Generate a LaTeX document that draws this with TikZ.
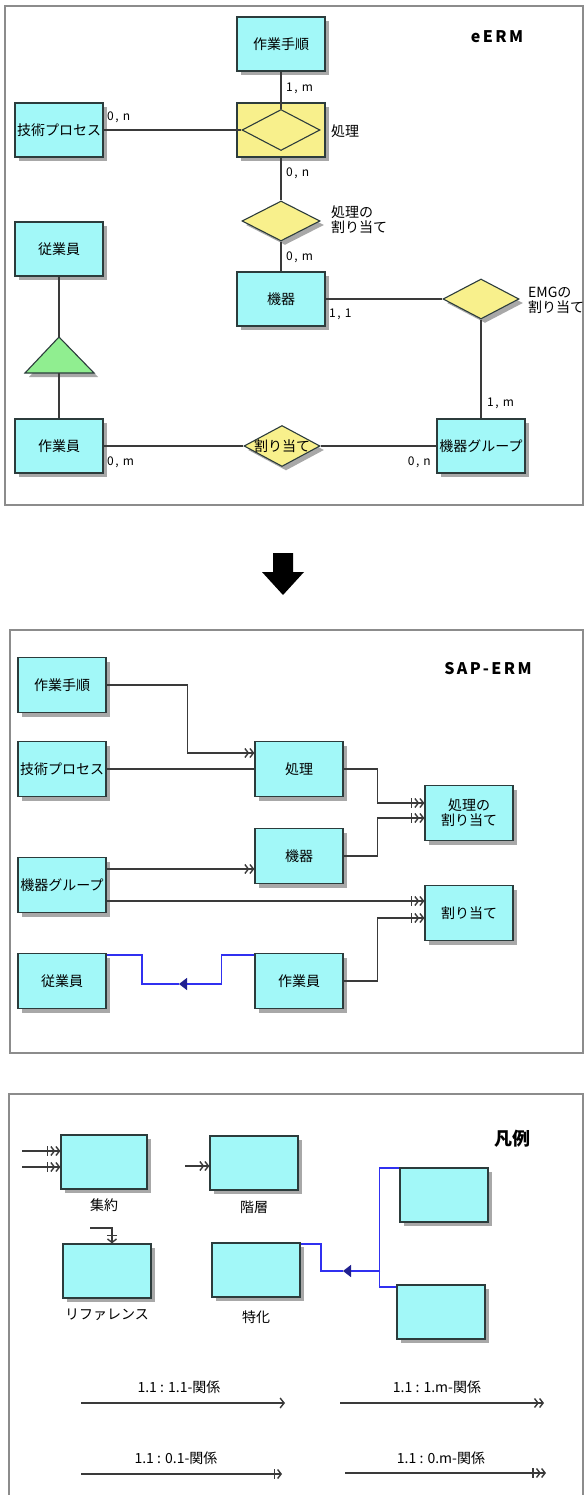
\documentclass[tikz,border=0pt]{standalone}
\usepackage{fontspec}
\setmainfont{Noto Sans CJK JP}
\usetikzlibrary{shapes.geometric,arrows.meta,shadows}
\definecolor{entc}{HTML}{A2F8F8}
\definecolor{relc}{HTML}{F8F08C}
\definecolor{genc}{HTML}{90EE90}
\definecolor{edgec}{HTML}{3A3A3A}
\definecolor{bdr}{HTML}{2C3C3C}
\definecolor{shadowgray}{HTML}{A8A8A8}
\definecolor{frm}{HTML}{8C8C8C}
\definecolor{blc}{HTML}{3030F0}
\definecolor{dblc}{HTML}{202090}
\tikzset{
 dropsh/.style={drop shadow={shadow xshift=4pt,shadow yshift=-4pt,fill=shadowgray,opacity=1}},
 ent/.style={rectangle,draw=bdr,line width=1.3pt,fill=entc,minimum width=88pt,minimum height=54pt,inner sep=0pt,dropsh,font=\fontsize{14}{16}\selectfont,align=center},
 relbase/.style={diamond,draw=bdr,line width=1.1pt,fill=relc,inner sep=0pt,font=\fontsize{14}{16}\selectfont},
 rel/.style={relbase,dropsh},
 relsq/.style={rectangle,draw=bdr,line width=1.3pt,fill=relc,minimum width=88pt,minimum height=54pt,inner sep=0pt,dropsh},
 edg/.style={draw=edgec,line width=1.4pt},
 bln/.style={draw=blc,line width=1.3pt},
 frame/.style={draw=frm,line width=1.6pt},
 lab/.style={inner sep=0pt,font=\fontsize{12}{14}\selectfont\addfontfeature{LetterSpace=12}},
 jlab/.style={inner sep=0pt,font=\fontsize{14}{15}\selectfont,align=left},
 leglab/.style={inner sep=0pt,font=\fontsize{14}{16}\selectfont},
 ttl/.style={inner sep=0pt,font=\fontsize{16}{18}\selectfont\bfseries\addfontfeature{LetterSpace=15}},
 hdone/.style={-{Straight Barb[length=4pt,width=10pt]}},
 hdonem/.style={-{Straight Barb[length=3.5pt,width=9pt]Straight Barb[length=3.5pt,width=9pt]}},
 hdzeroone/.style={-{Bar[width=10pt,sep=2pt]Straight Barb[length=3.5pt,width=9pt]}},
 hdzerom/.style={-{Bar[width=10pt,sep=2pt]Straight Barb[length=3.5pt,width=9pt]Straight Barb[length=3.5pt,width=9pt]}},
 hdtri/.style={-{Triangle[length=8pt,width=12pt,color=dblc,fill=dblc]}}
}
\begin{document}
\begin{tikzpicture}[x=1pt,y=-1pt]
\useasboundingbox (0,0) rectangle (586,1495);
\fill[white] (0,0) rectangle (586,1495);

% ===== Frame 1: eERM =====
\draw[frame] (5,6) rectangle (583,505);
\node[ttl] (t1) at (497,37) {eERM};
\node[ent] (a1) at (281,44) {作業手順};
\node[ent] (a2) at (59,130) {技術プロセス};
\node[relsq] (a3) at (281,130) {};
\node[relbase,minimum width=78pt,minimum height=41pt] (a3d) at (281,130) {};
\node[rel,minimum width=78pt,minimum height=40pt] (a4) at (281,221) {};
\node[ent] (a5) at (281,299) {機器};
\node[rel,minimum width=76pt,minimum height=40pt] (a6) at (481,299) {};
\node[ent] (a7) at (59,249) {従業員};
\node[ent] (a9) at (59,446) {作業員};
\node[rel,minimum width=76pt,minimum height=41pt] (a10) at (282,446) {\makebox[0pt]{割り当て}};
\node[ent] (a11) at (481,446) {機器グループ};
% generalisation triangle
\fill[shadowgray] (63,341) -- (98,377) -- (29,377) -- cycle;
\filldraw[draw=bdr,fill=genc,line width=1.1pt] (59,337) -- (94,373) -- (25,373) -- cycle;
\coordinate (ap) at (59,337);
\coordinate (bs) at (59,373);

\draw[edg] (a1.south) -- (a3d.north);
\draw[edg] (a2.east) -- (a3d.west);
\draw[edg] (a3.south) -- (a4.north);
\draw[edg] (a4.south) -- (a5.north);
\draw[edg] (a5.east) -- (a6.west);
\draw[edg] (a6.south) -- (a11.north);
\draw[edg] (a7.south) -- (ap);
\draw[edg] (bs) -- (a9.north);
\draw[edg] (a9.east) -- (a10.west);
\draw[edg] (a10.east) -- (a11.west);

\node[lab,anchor=west] (c1) at (286,88) {1, m};
\node[lab,anchor=west] (c2) at (107,117) {0, n};
\node[jlab,anchor=west] (c3) at (331,131) {処理};
\node[lab,anchor=west] (c4) at (286,173) {0, n};
\node[jlab,anchor=west] (c5) at (331,220) {処理の\\割り当て};
\node[lab,anchor=west] (c6) at (286,257) {0, m};
\node[lab,anchor=west] (c7) at (329,314) {1, 1};
\node[jlab,anchor=west] (c8) at (528,300) {EMGの\\割り当て};
\node[lab,anchor=west] (c9) at (487,403) {1, m};
\node[lab,anchor=west] (c10) at (107,462) {0, m};
\node[lab,anchor=east] (c11) at (431,462) {0, n};

% ===== big arrow =====
\fill[black] (273,553) -- (293,553) -- (293,572) -- (304,572) -- (283,595) -- (262,572) -- (273,572) -- cycle;

% ===== Frame 2: SAP-ERM =====
\draw[frame] (10,630) rectangle (583,1053);
\node[ttl] (t2) at (488,669) {SAP-ERM};
\node[ent,minimum height=55pt] (b1) at (62,685) {作業手順};
\node[ent,minimum height=55pt] (b2) at (62,769) {技術プロセス};
\node[ent,minimum height=55pt] (b3) at (299,769) {処理};
\node[ent,minimum height=55pt,font=\fontsize{14}{15}\selectfont] (b4) at (469,813) {処理の\\割り当て};
\node[ent,minimum height=55pt] (b5) at (299,856) {機器};
\node[ent,minimum height=55pt] (b6) at (62,885) {機器グループ};
\node[ent,minimum height=55pt] (b7) at (469,913) {割り当て};
\node[ent,minimum height=55pt] (b8) at (62,981) {従業員};
\node[ent,minimum height=55pt] (b9) at (299,981) {作業員};

\draw[edg,hdonem] (b1.east) -- ++(81,0) |- ([yshift=16pt]b3.west);
\draw[edg] (b2.east) -- (b3.west);
\draw[edg,hdzerom] (b3.east) -- ++(34,0) |- ([yshift=10pt]b4.west);
\draw[edg,hdzerom] (b5.east) -- ++(34,0) |- ([yshift=-5pt]b4.west);
\draw[edg,hdonem] ([yshift=16pt]b6.east) -- ([yshift=-13pt]b5.west);
\draw[edg,hdzerom] ([yshift=-16pt]b6.east) -- ([yshift=12pt]b7.west);
\draw[edg,hdzerom] (b9.east) -- ++(34,0) |- ([yshift=-5pt]b7.west);
\coordinate (tr1) at (179,984);
\draw[bln,hdtri] ([yshift=26pt]b9.west) -- ++(-33,0) |- (tr1);
\draw[bln] (tr1) -- ++(-37,0) |- ([yshift=26pt]b8.east);

% ===== Frame 3: legend =====
\draw[frame] (9,1500) -- (9,1094) -- (583,1094) -- (583,1500);
\node[ttl,font=\fontsize{18}{20}\selectfont\bfseries] (t3) at (512,1139) {凡例};
\node[ent,minimum width=86pt] (g1) at (104,1162) {};
\node[jlab] (g1l) at (104,1205) {集約};
\coordinate (g1a) at (22,1151);
\coordinate (g1b) at (22,1167);
\draw[edg,hdzerom] (g1a) -- (g1a -| g1.west);
\draw[edg,hdzerom] (g1b) -- (g1b -| g1.west);
\node[ent] (g2) at (254,1163) {};
\node[jlab] (g2l) at (254,1207) {階層};
\coordinate (g2a) at (185,1166);
\draw[edg,hdonem] (g2a) -- (g2a -| g2.west);
\node[ent] (g3) at (107,1271) {};
\node[jlab] (g3l) at (107,1315) {リファレンス};
\coordinate (g3a) at (90,1228);
\draw[edg,hdzeroone] (g3a) -| ([xshift=5pt]g3.north);
\node[ent] (g4) at (256,1270) {};
\node[jlab] (g4l) at (256,1317) {特化};
\node[ent] (g5) at (444,1195) {};
\node[ent] (g6) at (441,1312) {};
\draw[bln] ([yshift=27pt]g5.west) -- ++(-20,0) |- ([yshift=25pt]g6.west);
\coordinate (jn) at (380,1271);
\coordinate (tr2) at (343,1271);
\draw[bln,hdtri] (jn) -- (tr2);
\draw[bln] (tr2) -- ++(-22,0) |- ([yshift=26pt]g4.east);

\node[leglab] (r1) at (179,1387) {1.1 : 1.1-関係};
\coordinate (r1a) at (81,1403);
\coordinate (r1b) at (285,1403);
\draw[edg,hdone] (r1a) -- (r1b);
\node[leglab] (r2) at (437,1387) {1.1 : 1.m-関係};
\coordinate (r2a) at (340,1403);
\coordinate (r2b) at (544,1403);
\draw[edg,hdonem] (r2a) -- (r2b);
\node[leglab] (r3) at (176,1458) {1.1 : 0.1-関係};
\coordinate (r3a) at (81,1474);
\coordinate (r3b) at (282,1474);
\draw[edg,hdzeroone] (r3a) -- (r3b);
\node[leglab] (r4) at (441,1458) {1.1 : 0.m-関係};
\coordinate (r4a) at (345,1473);
\coordinate (r4b) at (546,1473);
\draw[edg,hdzerom] (r4a) -- (r4b);
\end{tikzpicture}
\end{document}
